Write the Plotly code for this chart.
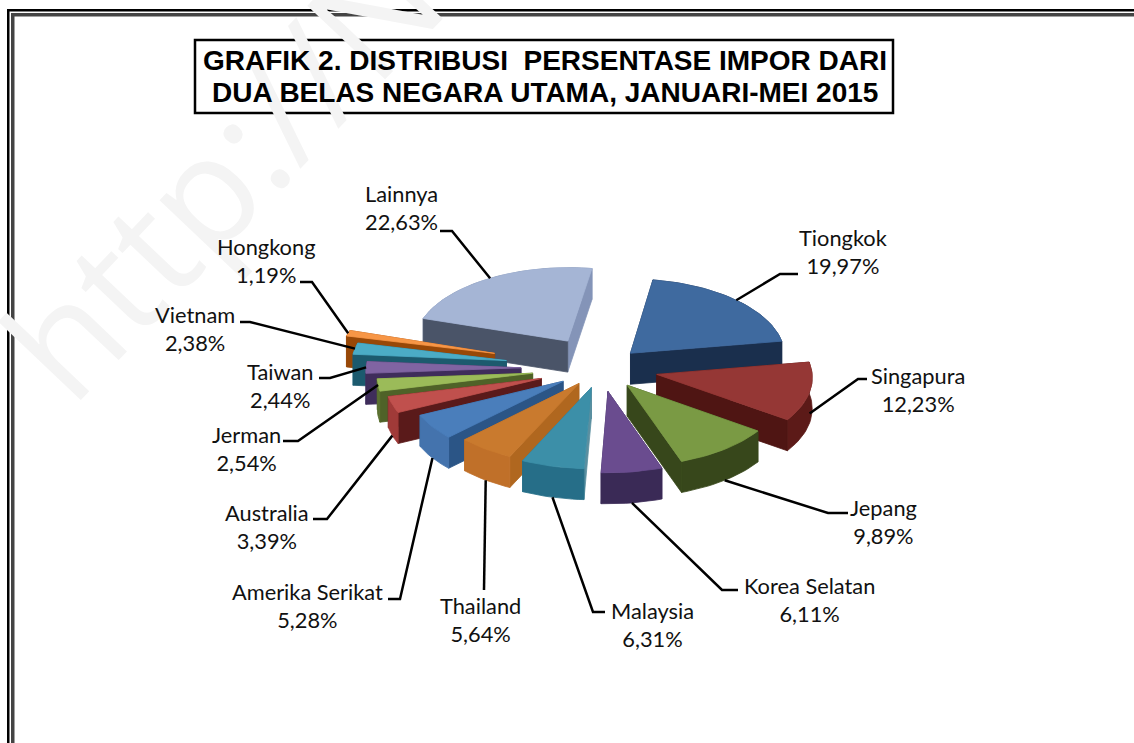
import math
import plotly.graph_objects as go

categories = ["Tiongkok", "Singapura", "Jepang", "Korea Selatan", "Malaysia", "Thailand",
              "Amerika Serikat", "Australia", "Jerman", "Taiwan", "Vietnam", "Hongkong", "Lainnya"]
values = [19.97, 12.23, 9.89, 6.11, 6.31, 5.64, 5.28, 3.39, 2.54, 2.44, 2.38, 1.19, 22.63]

# Styling and layout, separate from the data
pull = [42, 57, 43, 47, 40, 38, 46, 63, 69, 80, 96, 111, 64]
top_col = ["#3f6a9f", "#953735", "#7a9a44", "#6a4c8f", "#3c8fa8", "#c97a2e", "#4a7ebb",
           "#c0504d", "#9bbb59", "#8064a2", "#4bacc6", "#f79646", "#a5b5d5"]
start_col = ["#1a2f4d", "#4f1513", "#37471b", "#38275a", "#5a8fa0", "#b0671f", "#2b5586",
             "#5a1a1a", "#4f6228", "#3f2d5b", "#1c5a6e", "#984807", "#4a5468"]
end_col = ["#1a2f4d", "#4f1513", "#37471b", "#38275a", "#266e88", "#b0671f", "#2b5586",
           "#5a1a1a", "#4f6228", "#3f2d5b", "#1c5a6e", "#984807", "#8494b8"]
arc_col = ["#1a2f4d", "#5c1a18", "#37471b", "#3a2a56", "#266e88", "#c07029", "#4473ad",
           "#a03a38", "#5a7030", "#4a3a6a", "#1f6a82", "#a85c1e", "#8090b0"]
label_pos = [(843, 251), (918, 389), (883, 521), (809, 599), (652, 624), (480, 619), (307, 605),
             (267, 526), (246, 448), (280, 385), (195, 328), (266, 260), (401, 207)]
elbow = [[(780, 274), (798, 274)], [(858, 379), (867, 379)], [(828, 513), (848, 513)],
         [(722, 590), (738, 590)], [(593, 612), (605, 612)], [(484, 590), (484, 590)],
         [(400, 599), (388, 599)], [(327, 519), (313, 519)], [(298, 441), (283, 441)],
         [(330, 378), (319, 378)], [(250, 322), (240, 322)], [(312, 282), (300, 282)],
         [(452, 231), (440, 231)]]
leader_drop = [0, 0.7, 1, 1, 1, 1, 1, 1, 0, 0, 0, 0, 0]

CX, CY, R, TILT, DEPTH, PERSP = 601, 368, 155, 0.5, 31, 0.0002
START = 9.0


def project(x, y, z=0.0):
    s = 1 + PERSP * y
    return (CX + x * s, CY + y * TILT * s + z * DEPTH)


def polar(t, r):
    a = math.radians(t)
    return r * math.sin(a), -r * math.cos(a)


fig = go.Figure()


def poly(points, color):
    xs = [p[0] for p in points] + [points[0][0]]
    ys = [p[1] for p in points] + [points[0][1]]
    fig.add_trace(go.Scatter(x=xs, y=ys, mode="lines", fill="toself", fillcolor=color,
                             line=dict(color=color, width=0.8), hoverinfo="skip", showlegend=False))


slices = []
cum = 0.0
total = sum(values)
for i, v in enumerate(values):
    t0 = START + cum / total * 360
    cum += v
    t1 = START + cum / total * 360
    tm = (t0 + t1) / 2
    ax, ay = polar(tm, pull[i])
    n = max(3, int((t1 - t0) / 2))
    arc = []
    for k in range(n + 1):
        t = t0 + (t1 - t0) * k / n
        px, py = polar(t, R)
        arc.append((ax + px, ay + py))
    slices.append(dict(i=i, apex=(ax, ay), arc=arc, tm=tm,
                       depth=ay + polar(tm, R * 0.6)[1]))


for s in sorted(slices, key=lambda q: q["depth"]):
    i = s["i"]
    a, arc = s["apex"], s["arc"]
    walls = [
        ([project(*a), project(*arc[0]), project(*arc[0], 1), project(*a, 1)], start_col[i]),
        ([project(*a), project(*arc[-1]), project(*arc[-1], 1), project(*a, 1)], end_col[i]),
        ([project(*p) for p in arc] + [project(*p, 1) for p in reversed(arc)], arc_col[i]),
    ]
    walls.sort(key=lambda w: sum(p[1] for p in w[0]) / len(w[0]))
    for pts, col in walls:
        poly(pts, col)
    poly([project(*a)] + [project(*p) for p in arc], top_col[i])

# Leader lines run from each slice's rim to its label
for s in slices:
    i = s["i"]
    mx, my = polar(s["tm"], R)
    sx, sy = project(s["apex"][0] + mx, s["apex"][1] + my, leader_drop[i])
    pts = [(sx, sy)] + elbow[i]
    fig.add_trace(go.Scatter(x=[p[0] for p in pts], y=[p[1] for p in pts], mode="lines",
                             line=dict(color="black", width=2.5), hoverinfo="skip", showlegend=False))

annotations = [dict(x=220, y=169, xref="x", yref="y", text="http://N", showarrow=False, textangle=-46.5,
                    font=dict(family="Open Sans", size=150, color="#f4f4f4"))]
for i, c in enumerate(categories):
    txt = f"{c}<br>{values[i]:.2f}%".replace(".", ",")
    annotations.append(dict(x=label_pos[i][0], y=label_pos[i][1], xref="x", yref="y", text=txt,
                            showarrow=False, align="center",
                            font=dict(family="Lato", size=21.8, color="#111111")))
for yy, line in [(60, "GRAFIK 2. DISTRIBUSI\u00a0 PERSENTASE IMPOR DARI"),
                 (92, "DUA BELAS NEGARA UTAMA, JANUARI-MEI 2015")]:
    annotations.append(dict(x=545, y=yy, xref="x", yref="y", showarrow=False, align="center",
                            text=f"<b>{line}</b>",
                            font=dict(family="Liberation Sans", size=28, color="black")))

shapes = [
    dict(type="rect", x0=195, y0=40, x1=893, y1=113, xref="x", yref="y", line=dict(color="black", width=2.5),
         fillcolor="rgba(0,0,0,0)", layer="above"),
    dict(type="rect", x0=7, y0=9, x1=9.5, y1=743, xref="x", yref="y", line_width=0, fillcolor="black"),
    dict(type="rect", x0=7, y0=9, x1=1134, y1=11.5, xref="x", yref="y", line_width=0, fillcolor="black"),
    dict(type="rect", x0=11, y0=13, x1=14.5, y1=743, xref="x", yref="y", line_width=0, fillcolor="#444444"),
    dict(type="rect", x0=11, y0=13, x1=1134, y1=16.5, xref="x", yref="y", line_width=0, fillcolor="#444444"),
]

fig.update_layout(width=1134, height=743, margin=dict(l=0, r=0, t=0, b=0),
                  paper_bgcolor="white", plot_bgcolor="white", showlegend=False,
                  annotations=annotations, shapes=shapes,
                  xaxis=dict(range=[0, 1134], visible=False, fixedrange=True),
                  yaxis=dict(range=[743, 0], visible=False, fixedrange=True))
fig.write_html("out.html", config={"displayModeBar": False},
               post_script="document.body.style.margin='0';document.body.style.overflow='hidden';")
